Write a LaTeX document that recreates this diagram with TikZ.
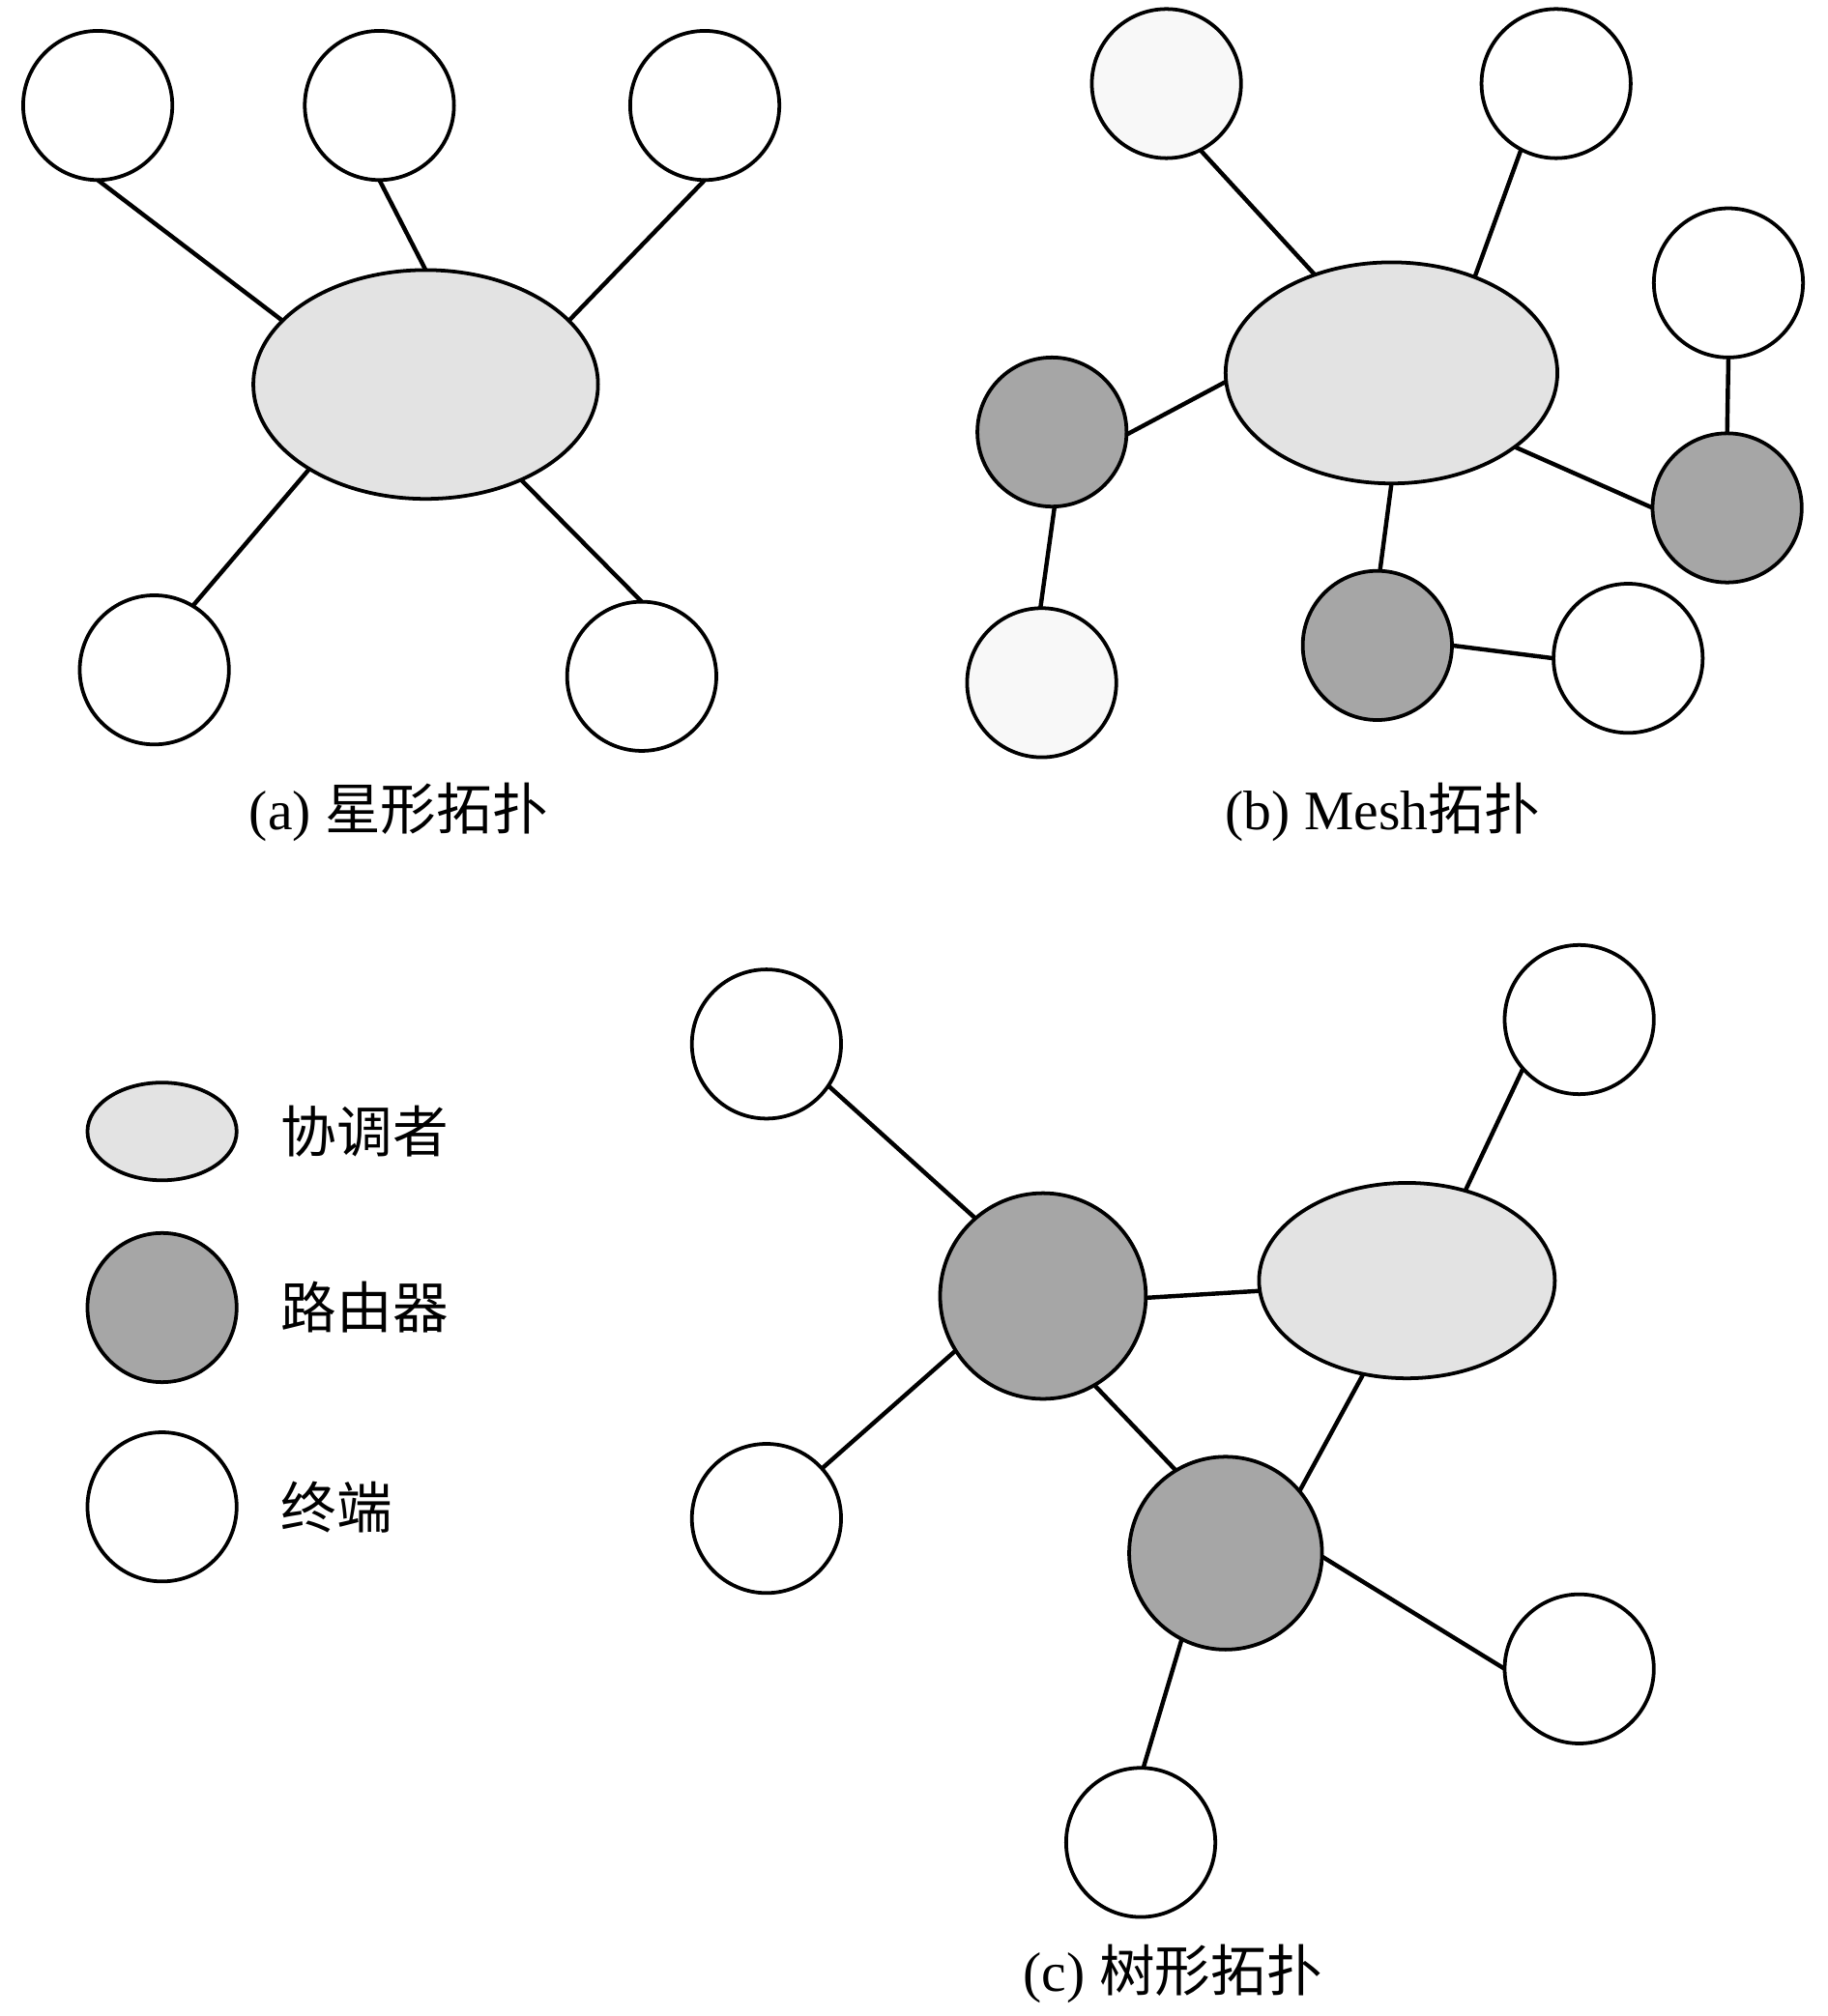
\documentclass[tikz,border=0pt]{standalone}
\usepackage{fontspec}
\setmainfont{Liberation Serif}
\newfontfamily\cjk{Noto Sans CJK SC}
\usetikzlibrary{shapes.geometric}
\definecolor{coordfill}{HTML}{E3E3E3}
\definecolor{routerfill}{HTML}{A6A6A6}
\definecolor{lightfill}{HTML}{F8F8F8}
\begin{document}
\begin{tikzpicture}[x=0.3pt,y=-0.3pt,
  base/.style={draw=black, line width=0.85pt, inner sep=0pt, outer sep=0pt},
  term/.style={base, circle, fill=white, minimum size=34.8pt},
  lterm/.style={term, fill=lightfill},
  router/.style={base, circle, fill=routerfill, minimum size=34.8pt},
  coord/.style={base, ellipse, fill=coordfill},
  link/.style={line width=1.0pt},
  captext/.style={font=\fontsize{13}{15}\selectfont, inner sep=0pt},
  legtext/.style={font=\fontsize{13}{15}\selectfont\cjk, inner sep=0pt, anchor=west}]
\useasboundingbox (0,0) rectangle (1421,1568);

% (a) star
\node[coord, minimum width=80.4pt, minimum height=53.4pt] (ac) at (331,299) {};
\node[term] (a1) at (76,82) {};
\node[term] (a2) at (295,82) {};
\node[term] (a3) at (548,82) {};
\node[term] (a4) at (120,521) {};
\node[term] (a5) at (499,526) {};
\draw[link] (a1.south) -- (ac.156);
\draw[link] (a2.south) -- (ac.north);
\draw[link] (a3.south) -- (ac.24);
\draw[link] (a4.59) -- (ac.216);
\draw[link] (a5.north) -- (ac.315);
\node[captext] (acap) at (310,632) {(a) {\cjk 星形拓扑}};

% (b) mesh
\node[coord, minimum width=77.4pt, minimum height=51.6pt] (bc) at (1082,290) {};
\node[lterm] (b1) at (907,65) {};
\node[term] (b2) at (1210,65) {};
\node[term] (b3) at (1344,220) {};
\node[router] (br1) at (818,336) {};
\node[router] (br2) at (1343,395) {};
\node[router] (br3) at (1071,502) {};
\node[lterm] (b4) at (810,531) {};
\node[term] (b5) at (1266,512) {};
\draw[link] (b1.297) -- (bc.128);
\draw[link] (b2.242) -- (bc.49);
\draw[link] (br1.358) -- (bc.183);
\draw[link] (br1.272) -- (b4.91);
\draw[link] (b3.south) -- (br2.north);
\draw[link] (bc.329) -- (br2.west);
\draw[link] (bc.south) -- (br3.88);
\draw[link] (br3.east) -- (b5.west);
\node[captext] (bcap) at (1075,632) {(b) Mesh{\cjk 拓扑}};

% legend
\node[coord, minimum width=34.8pt, minimum height=22.8pt] (lc) at (126,880) {};
\node[router] (lr) at (126,1017) {};
\node[term] (lt) at (126,1172) {};
\node[legtext] (lct) at (218,880) {协调者};
\node[legtext] (lrt) at (218,1017) {路由器};
\node[legtext] (ltt) at (218,1172) {终端};

% (c) tree
\node[coord, minimum width=69pt, minimum height=45.6pt] (cc) at (1094,996) {};
\node[router, minimum size=48pt] (cr1) at (811,1008) {};
\node[router, minimum size=45pt] (cr2) at (953,1208) {};
\node[term] (c1) at (596,812) {};
\node[term] (c2) at (1228,793) {};
\node[term] (c3) at (596,1181) {};
\node[term] (c4) at (1228,1298) {};
\node[term] (c5) at (887,1433) {};
\draw[link] (c1.326) -- (cr1.131);
\draw[link] (c2.221) -- (cc.57);
\draw[link] (cr1.359) -- (cc.184);
\draw[link] (cr1.212) -- (c3.42);
\draw[link] (cr1.300) -- (cr2.121);
\draw[link] (cc.245) -- (cr2.40);
\draw[link] (cr2.358) -- (c4.west);
\draw[link] (cr2.243) -- (c5.88);
\node[captext] (ccap) at (912,1535) {(c) {\cjk 树形拓扑}};
\end{tikzpicture}
\end{document}
